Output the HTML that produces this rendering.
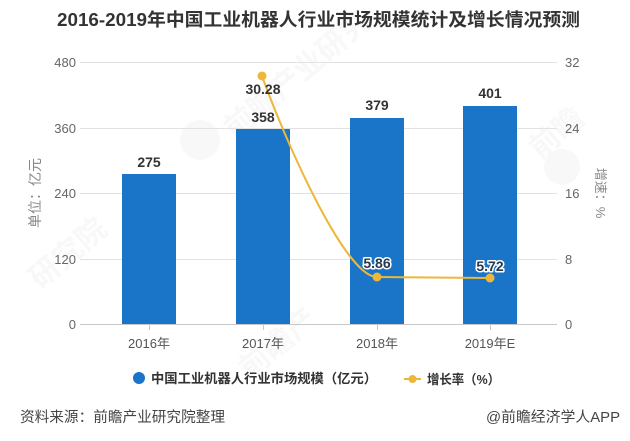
<!DOCTYPE html>
<html>
<head>
<meta charset="utf-8">
<style>
  html, body { margin:0; padding:0; background:#fff; }
  svg { display:block; }
  text { font-family: "Liberation Sans", "Noto Sans CJK SC", sans-serif; }
</style>
</head>
<body>
<svg width="630" height="441" viewBox="0 0 630 441" xmlns="http://www.w3.org/2000/svg">
  <rect x="0" y="0" width="630" height="441" fill="#ffffff"/>

  <!-- faint watermarks -->
  <g fill="#000" opacity="0.03" font-weight="bold">
    <text x="0" y="0" font-size="30" transform="translate(40,290) rotate(-40)">研究院</text>
    <text x="0" y="0" font-size="30" transform="translate(235,140) rotate(-40)">前瞻产业研究</text>
    <text x="0" y="0" font-size="30" transform="translate(540,160) rotate(-40)">前瞻</text>
    <text x="0" y="0" font-size="30" transform="translate(250,380) rotate(-40)">前瞻产</text>
    <circle cx="200" cy="140" r="20"/>
    <circle cx="562" cy="167" r="18"/>
  </g>

  <!-- Title -->
  <text x="57" y="26" font-size="18" font-weight="bold" fill="#333" textLength="523" lengthAdjust="spacingAndGlyphs">2016-2019年中国工业机器人行业市场规模统计及增长情况预测</text>

  <!-- Grid lines -->
  <g stroke="#e2e2e2" stroke-width="1">
    <line x1="80" y1="62.5" x2="557" y2="62.5"/>
    <line x1="80" y1="128.5" x2="557" y2="128.5"/>
    <line x1="80" y1="193.5" x2="557" y2="193.5"/>
    <line x1="80" y1="259.5" x2="557" y2="259.5"/>
  </g>
  <line x1="80" y1="324.5" x2="557" y2="324.5" stroke="#c8c8c8" stroke-width="1"/>
  <g stroke="#c8c8c8" stroke-width="1">
    <line x1="149.5" y1="324" x2="149.5" y2="330"/>
    <line x1="263.5" y1="324" x2="263.5" y2="330"/>
    <line x1="377.5" y1="324" x2="377.5" y2="330"/>
    <line x1="490.5" y1="324" x2="490.5" y2="330"/>
  </g>

  <!-- Left tick labels -->
  <g font-size="13" fill="#666" text-anchor="end">
    <text x="76" y="67">480</text>
    <text x="76" y="133">360</text>
    <text x="76" y="198">240</text>
    <text x="76" y="264">120</text>
    <text x="76" y="329">0</text>
  </g>
  <!-- Right tick labels -->
  <g font-size="13" fill="#666" text-anchor="start">
    <text x="565" y="67">32</text>
    <text x="565" y="133">24</text>
    <text x="565" y="198">16</text>
    <text x="565" y="264">8</text>
    <text x="565" y="329">0</text>
  </g>

  <!-- Axis titles -->
  <text x="0" y="0" font-size="14" fill="#888" text-anchor="middle" transform="translate(40,193) rotate(-90)">单位：亿元</text>
  <text x="0" y="0" font-size="13" fill="#888" text-anchor="middle" transform="translate(596,193) rotate(90)">增速：%</text>

  <!-- Bars -->
  <g fill="#1a75c8">
    <rect x="122" y="174" width="54" height="150"/>
    <rect x="236" y="129" width="54" height="195"/>
    <rect x="350" y="118" width="54" height="206"/>
    <rect x="463" y="106" width="54" height="218"/>
  </g>

  <!-- Bar value labels -->
  <g font-size="14" font-weight="bold" fill="#333" text-anchor="middle">
    <text x="149" y="167">275</text>
    <text x="263" y="122">358</text>
    <text x="377" y="110">379</text>
    <text x="490" y="98">401</text>
  </g>

  <!-- Growth line -->
  <path d="M262,76 C285,140 345,277 377,277 L490,278" fill="none" stroke="#ecb73a" stroke-width="2"/>
  <g fill="#ecb73a">
    <circle cx="262" cy="76" r="4.5"/>
    <circle cx="377" cy="277" r="4.5"/>
    <circle cx="490" cy="278" r="4.5"/>
  </g>

  <!-- Line labels -->
  <text x="263" y="94" font-size="14" font-weight="bold" fill="#333" text-anchor="middle">30.28</text>
  <g font-size="14" font-weight="bold" fill="#24384f" text-anchor="middle" stroke="#ffffff" stroke-width="3" paint-order="stroke" stroke-linejoin="round">
    <text x="377" y="268">5.86</text>
    <text x="490" y="271">5.72</text>
  </g>

  <!-- X labels -->
  <g font-size="13" fill="#555" text-anchor="middle">
    <text x="149" y="348">2016年</text>
    <text x="263" y="348">2017年</text>
    <text x="377" y="348">2018年</text>
    <text x="490" y="348">2019年E</text>
  </g>

  <!-- Legend -->
  <circle cx="139" cy="378" r="6" fill="#1a75c8"/>
  <text x="151" y="383" font-size="13.3" font-weight="bold" fill="#333" textLength="226" lengthAdjust="spacingAndGlyphs">中国工业机器人行业市场规模（亿元）</text>
  <line x1="404" y1="379" x2="421" y2="379" stroke="#ecb73a" stroke-width="2"/>
  <circle cx="412.5" cy="379" r="4" fill="#ecb73a"/>
  <text x="427" y="384" font-size="13.3" font-weight="bold" fill="#333" textLength="73" lengthAdjust="spacingAndGlyphs">增长率（%）</text>

  <!-- Footer -->
  <text x="20" y="422" font-size="14.5" fill="#444" textLength="205" lengthAdjust="spacingAndGlyphs">资料来源：前瞻产业研究院整理</text>
  <text x="486" y="422" font-size="14.5" fill="#444" textLength="134" lengthAdjust="spacingAndGlyphs">@前瞻经济学人APP</text>
</svg>
</body>
</html>
